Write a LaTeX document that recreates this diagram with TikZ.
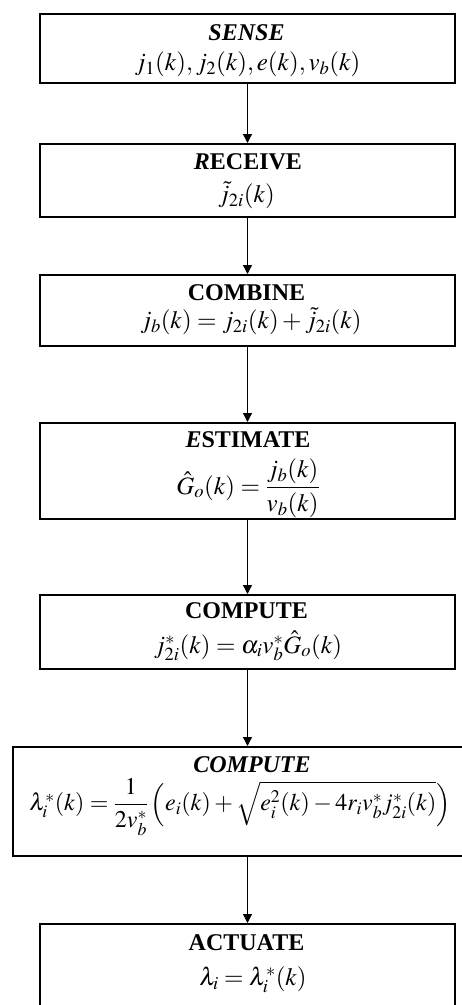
\documentclass[tikz,border=0pt]{standalone}
\usepackage{amsmath}
\usepackage{mathptmx}
\usepackage[no-math]{fontspec}
\setmainfont{Liberation Serif}
\usetikzlibrary{arrows.meta}
\begin{document}
\begin{tikzpicture}[x=1pt,y=1pt,
  box/.style={draw=black,line width=2pt,minimum width=415pt,inner sep=0pt,anchor=north west},
  ttl/.style={font=\fontsize{24}{28}\selectfont\bfseries,inner sep=0pt},
  fml/.style={font=\fontsize{25}{29}\selectfont,inner sep=0pt},
  bigfml/.style={font=\fontsize{24}{28}\selectfont,inner sep=0pt},
  arr/.style={-{Triangle[length=9pt,width=9pt]},line width=1.1pt}]
\useasboundingbox (0,0) rectangle (461,-1005);
\fill[white] (0,0) rectangle (461,-1005);
% boxes
\node[box,minimum height=69pt] (A) at (39,-13) {};
\node[box,minimum height=73pt] (B) at (39,-143) {};
\node[box,minimum height=71pt] (C) at (39,-274) {};
\node[box,minimum height=96pt] (D) at (39,-422) {};
\node[box,minimum height=74pt] (E) at (39,-594) {};
\node[box,minimum height=109pt,minimum width=463pt] (F) at (12,-746) {};
\node[box,minimum height=90pt] (G) at (39,-923) {};
% texts
\node[ttl] (A1) at (246.5,-33) {\textit{SENSE}};
\node[fml] (A2) at (247.5,-64) {$j_1(k), j_2(k), e(k), v_b(k)$};
\node[ttl] (B1) at (248,-162) {\textit{R}ECEIVE};
\node[fml] (B2) at (246.5,-195) {$\tilde{j}_{2i}(k)$};
\node[ttl] (C1) at (246.5,-293) {COMBINE};
\node[fml] (C2) at (251,-321) {$j_b(k) = j_{2i}(k) + \tilde{j}_{2i}(k)$};
\node[ttl] (D1) at (248,-440) {\textit{E}STIMATE};
\node[fml] (D2) at (248,-488) {$\hat{G}_o(k) = \dfrac{j_b(k)}{v_b(k)}$};
\node[ttl] (E1) at (246.5,-611) {COMPUTE};
\node[fml] (E2) at (248,-646) {$j^*_{2i}(k) = \alpha_i v^*_b \hat{G}_o(k)$};
\node[ttl] (F1) at (252,-765) {\textit{COMPUTE}};
\node[bigfml] (F2) at (240,-807) {$\lambda^*_i(k) = \dfrac{1}{2v^*_b}\left(e_i(k) + \sqrt{e_i^2(k) - 4 r_i v^*_b j^*_{2i}(k)}\right)$};
\node[ttl] (G1) at (246.5,-943) {ACTUATE};
\node[fml] (G2) at (253,-980) {$\lambda_i = \lambda^*_i(k)$};
% arrows
\draw[arr] (A.south) -- (B.north);
\draw[arr] (B.south) -- (C.north);
\draw[arr] (C.south) -- (D.north);
\draw[arr] (D.south) -- (E.north);
\draw[arr] (E.south) -- (E.south |- F.north);
\draw[arr] (G.north |- F.south) -- (G.north);
\end{tikzpicture}
\end{document}
